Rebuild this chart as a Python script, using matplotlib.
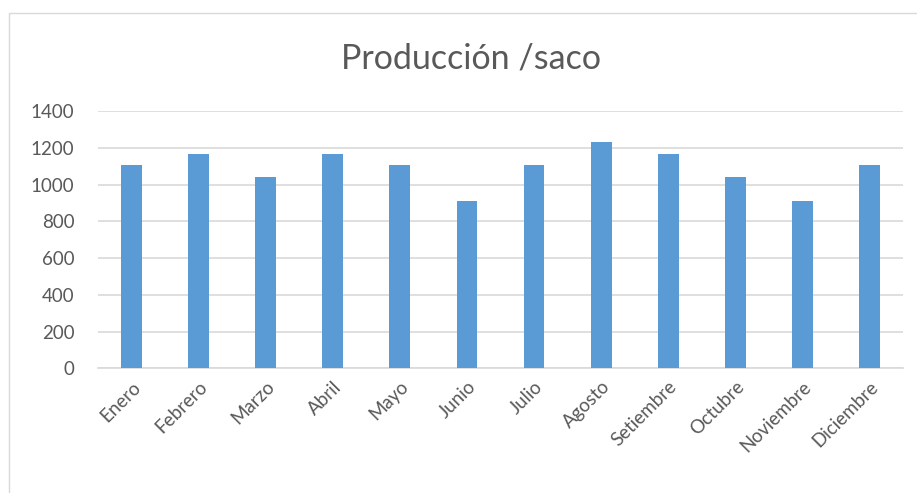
import matplotlib
matplotlib.use('Agg')
import matplotlib.pyplot as plt
from matplotlib.patches import Rectangle

# produccion mensual en sacos
meses = ['Enero', 'Febrero', 'Marzo', 'Abril', 'Mayo', 'Junio',
         'Julio', 'Agosto', 'Setiembre', 'Octubre', 'Noviembre', 'Diciembre']
sacos = [1105, 1170, 1040, 1170, 1105, 910, 1105, 1235, 1170, 1040, 910, 1105]
y_ticks = [0, 200, 400, 600, 800, 1000, 1200, 1400]

gris = '#595959'
plt.rcParams['font.family'] = ['Lato', 'DejaVu Sans']

fig = plt.figure(figsize=(9.17, 4.93), dpi=100)
ax = fig.add_axes([0.1069, 0.2529, 0.8778, 0.5213])

# marco del area del grafico
fig.patches.append(Rectangle((9 / 917, -0.1), 1.2, 1 - 13 / 493 + 0.1,
                             transform=fig.transFigure, fill=False,
                             edgecolor='#d9d9d9', linewidth=1.0))

x = range(len(meses))
ax.bar(x, sacos, width=0.31, color='#5b9bd5', zorder=3)

ax.set_xlim(-0.5, len(meses) - 0.5)
ax.set_ylim(0, 1400)
ax.set_yticks(y_ticks)
ax.set_yticklabels([str(v) for v in y_ticks], fontsize=13.5, color=gris)
ax.set_xticks(list(x))
ax.set_xticklabels(meses, rotation=45, ha='right', rotation_mode='anchor',
                   fontsize=13.5, color=gris)
ax.tick_params(axis='y', length=0, pad=17)
ax.tick_params(axis='x', length=0, pad=7)

ax.grid(axis='y', color='#d9d9d9', linewidth=1.2, zorder=0)
for s in ['top', 'right', 'left']:
    ax.spines[s].set_visible(False)
ax.spines['bottom'].set_color('#d9d9d9')
ax.spines['bottom'].set_linewidth(1.2)

fig.text(0.514, 0.882, 'Producción /saco', ha='center', va='center',
         fontsize=24.5, color=gris)

fig.savefig('out.png', dpi=100)
